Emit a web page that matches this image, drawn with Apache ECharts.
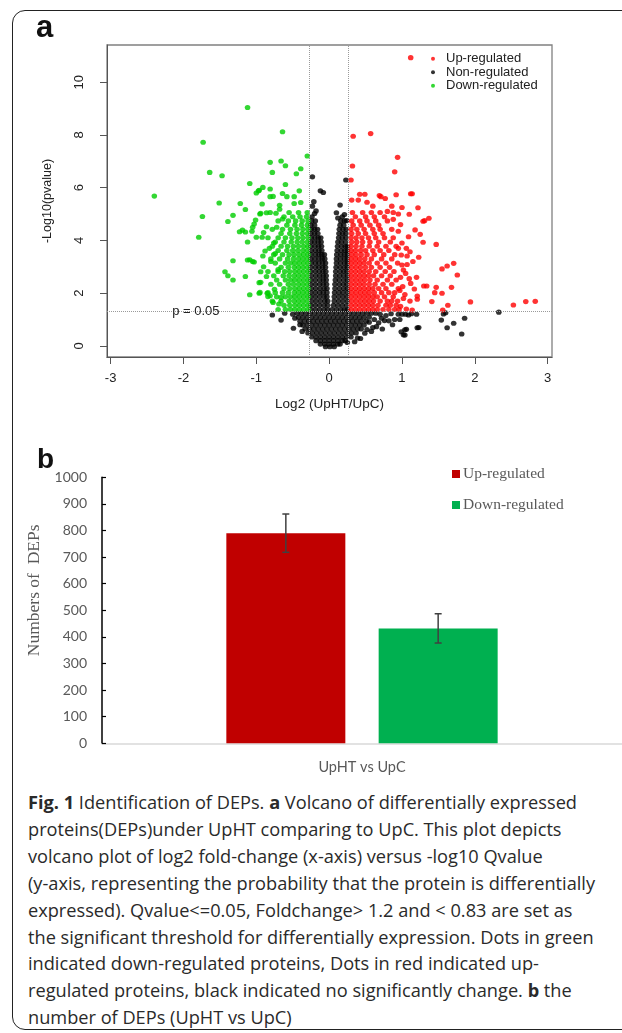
<!DOCTYPE html>
<html>
<head>
<meta charset="utf-8">
<script src="https://cdn.jsdelivr.net/npm/echarts@6/dist/echarts.min.js"></script>
<style>
  html, body { margin: 0; padding: 0; background: #fff; }
  body { width: 622px; height: 1033px; position: relative; overflow: hidden; }
  #frame { position: absolute; left: 12px; top: 10px; width: 640px; height: 1020px;
           border: 1.5px solid #222; border-radius: 13px; box-sizing: border-box; }
  #volcano { position: absolute; left: 0; top: 0; width: 622px; height: 440px; }
  #bars { position: absolute; left: 0; top: 440px; width: 622px; height: 345px; }
  #caption { position: absolute; left: 28px; top: 789px; white-space: nowrap;
             font-family: "Open Sans", sans-serif; font-size: 18.2px; line-height: 26.9px; color: #2a2a2a; }
  #caption b { font-weight: 700; }
</style>
</head>
<body>
<div id="frame"></div>
<div id="volcano"></div>
<div id="bars"></div>
<div id="caption"><b>Fig. 1</b> Identification of DEPs. <b>a</b> Volcano of differentially expressed<br>proteins(DEPs)under UpHT comparing to UpC. This plot depicts<br>volcano plot of log2 fold-change (x-axis) versus -log10 Qvalue<br>(y-axis, representing the probability that the protein is differentially<br>expressed). Qvalue&lt;=0.05, Foldchange&gt; 1.2 and &lt; 0.83 are set as<br>the significant threshold for differentially expression. Dots in green<br>indicated down-regulated proteins, Dots in red indicated up-<br>regulated proteins, black indicated no significantly change. <b>b</b> the<br>number of DEPs (UpHT vs UpC)</div>

<script type="text/javascript">
// ---- panel a : volcano ----
var xTicks = [-3, -2, -1, 0, 1, 2, 3];
var yTicks = [0, 2, 4, 6, 8, 10];
var fcDown = -0.269, fcUp = 0.263, pLine = 1.301;

// dense rows: [y, x, x, ...]
var blackColumns = [
  [1.38, -0.25, -0.19, -0.13, -0.07, -0.02, 0.04, 0.10, 0.16, 0.21, 0.25],
  [1.54, -0.25, -0.19, -0.13, -0.07, -0.02, 0.06, 0.12, 0.18, 0.24],
  [1.70, -0.24, -0.18, -0.12, -0.06, -0.02, 0.07, 0.13, 0.19, 0.25],
  [1.86, -0.25, -0.19, -0.13, -0.07, -0.03, 0.07, 0.13, 0.19, 0.245],
  [2.02, -0.25, -0.19, -0.13, -0.08, -0.03, 0.075, 0.135, 0.19, 0.25],
  [2.18, -0.245, -0.185, -0.125, -0.07, -0.03, 0.08, 0.14, 0.20, 0.25],
  [2.34, -0.25, -0.19, -0.13, -0.08, -0.035, 0.08, 0.14, 0.195, 0.245],
  [2.50, -0.25, -0.19, -0.13, -0.08, -0.04, 0.085, 0.14, 0.20, 0.25],
  [2.66, -0.245, -0.185, -0.13, -0.08, -0.04, 0.09, 0.145, 0.20, 0.25],
  [2.82, -0.25, -0.19, -0.135, -0.085, -0.045, 0.09, 0.15, 0.20, 0.245],
  [2.98, -0.25, -0.19, -0.14, -0.09, -0.05, 0.095, 0.15, 0.205, 0.25],
  [3.14, -0.245, -0.19, -0.14, -0.09, -0.05, 0.10, 0.155, 0.21, 0.25],
  [3.30, -0.25, -0.195, -0.14, -0.095, -0.06, 0.10, 0.155, 0.21, 0.25],
  [3.46, -0.25, -0.19, -0.14, -0.10, -0.065, 0.105, 0.16, 0.21, 0.25],
  [3.62, -0.245, -0.19, -0.14, -0.10, 0.11, 0.165, 0.215, 0.25],
  [3.78, -0.25, -0.195, -0.145, -0.105, 0.115, 0.17, 0.22, 0.25],
  [3.94, -0.25, -0.20, -0.15, -0.11, 0.12, 0.17, 0.225],
  [4.10, -0.245, -0.195, -0.15, -0.115, 0.13, 0.18, 0.23],
  [4.26, -0.25, -0.20, -0.155, 0.135, 0.185, 0.23],
  [4.42, -0.245, -0.20, -0.16, 0.14, 0.19, 0.235],
  [4.58, -0.25, -0.20, 0.15, 0.20],
  [4.74, -0.24, -0.19, 0.16, 0.21],
  [4.90, -0.235, 0.18]
];
var blackBase = [
  [1.24, -0.44, -0.38, -0.32, -0.26, -0.20, -0.14, -0.08, -0.02, 0.04, 0.10, 0.16, 0.22, 0.28, 0.34, 0.40, 0.46, 0.52, 0.58, 0.64],
  [1.09, -0.42, -0.36, -0.30, -0.24, -0.18, -0.12, -0.06, 0.00, 0.06, 0.12, 0.18, 0.24, 0.30, 0.36, 0.42, 0.48, 0.55],
  [0.94, -0.40, -0.34, -0.28, -0.22, -0.16, -0.10, -0.04, 0.02, 0.08, 0.14, 0.20, 0.26, 0.32, 0.38, 0.44, 0.51],
  [0.79, -0.36, -0.30, -0.24, -0.18, -0.12, -0.06, 0.00, 0.06, 0.12, 0.18, 0.24, 0.30, 0.36, 0.42, 0.48],
  [0.64, -0.33, -0.27, -0.21, -0.15, -0.09, -0.03, 0.03, 0.09, 0.15, 0.21, 0.27, 0.33, 0.39, 0.44],
  [0.49, -0.29, -0.23, -0.17, -0.11, -0.05, 0.01, 0.07, 0.13, 0.19, 0.25, 0.31, 0.37],
  [0.34, -0.24, -0.18, -0.12, -0.06, 0.00, 0.06, 0.12, 0.18, 0.24, 0.30],
  [0.20, -0.18, -0.12, -0.06, 0.00, 0.06, 0.12, 0.18, 0.22],
  [0.07, -0.12, -0.06, 0.00, 0.06, 0.12, 0.15],
  [-0.03, -0.05, 0.01, 0.07]
];
var blackScatter = [
  [-0.23, 6.41], [-0.12, 5.88], [-0.08, 5.82], [0.23, 6.29], [0.15, 5.34], [-0.21, 5.47], [-0.23, 5.30],
  [-0.18, 5.12], [0.10, 5.05], [0.21, 4.98], [-0.20, 5.02], [0.12, 4.85], [0.24, 4.75],
  [-0.78, 1.17], [-0.66, 0.98], [-0.61, 1.24], [-0.50, 1.20], [-0.49, 0.67], [-0.40, 0.80], [-0.37, 0.55], [-0.47, 1.05],
  [0.65, 0.73], [0.60, 0.70], [0.73, 0.64], [0.76, 0.96], [0.87, 0.80], [0.70, 1.20], [0.78, 1.15], [0.85, 1.22],
  [0.95, 1.20], [1.00, 1.20], [1.05, 1.20], [1.09, 1.17], [1.13, 1.22], [1.20, 1.20], [0.99, 0.54], [1.02, 0.42],
  [1.04, 0.61], [1.06, 0.63], [1.04, 0.41], [1.21, 0.69], [1.23, 0.70], [0.97, 1.00], [1.54, 0.98], [1.57, 1.21],
  [1.60, 1.26], [1.62, 0.69], [1.71, 0.86], [1.82, 0.45], [1.86, 1.05], [2.33, 1.28], [0.49, 0.48], [0.43, 0.28],
  [0.39, 0.30], [0.35, 0.16], [0.25, 0.13], [0.55, 0.90], [0.62, 1.00], [0.68, 0.88], [0.58, 0.55], [0.52, 0.62],
  [0.72, 1.05], [0.90, 1.00], [0.82, 0.95]
];
var redCore = [
  [1.38, 0.30, 0.36, 0.42, 0.48, 0.54, 0.60, 0.66, 0.74, 0.82, 0.90, 0.96],
  [1.54, 0.30, 0.36, 0.42, 0.48, 0.54, 0.60, 0.67, 0.78, 0.84, 0.92],
  [1.70, 0.31, 0.37, 0.43, 0.49, 0.55, 0.61, 0.70, 0.80, 0.86, 0.94],
  [1.86, 0.30, 0.36, 0.42, 0.48, 0.54, 0.60, 0.66, 0.76, 0.88],
  [2.02, 0.31, 0.37, 0.43, 0.49, 0.55, 0.62, 0.72, 0.82, 0.90],
  [2.18, 0.30, 0.36, 0.42, 0.48, 0.54, 0.60, 0.68, 0.78, 0.95],
  [2.34, 0.30, 0.36, 0.42, 0.48, 0.55, 0.63, 0.74, 0.86],
  [2.50, 0.31, 0.37, 0.43, 0.49, 0.56, 0.66, 0.80, 0.92],
  [2.66, 0.30, 0.36, 0.42, 0.48, 0.54, 0.61, 0.72, 0.84],
  [2.82, 0.30, 0.36, 0.42, 0.48, 0.55, 0.64, 0.77, 0.89],
  [2.98, 0.31, 0.37, 0.43, 0.50, 0.58, 0.70, 0.83],
  [3.14, 0.30, 0.36, 0.42, 0.48, 0.55, 0.66, 0.78, 0.94],
  [3.30, 0.30, 0.36, 0.42, 0.49, 0.58, 0.72, 0.86],
  [3.46, 0.31, 0.37, 0.44, 0.52, 0.62, 0.75, 0.90],
  [3.62, 0.30, 0.36, 0.43, 0.50, 0.60, 0.70, 0.82],
  [3.78, 0.30, 0.37, 0.45, 0.55, 0.66, 0.78, 0.92],
  [3.94, 0.31, 0.38, 0.46, 0.56, 0.68, 0.84],
  [4.10, 0.30, 0.37, 0.45, 0.54, 0.64, 0.76, 0.88],
  [4.26, 0.31, 0.40, 0.50, 0.62, 0.74],
  [4.42, 0.30, 0.38, 0.48, 0.60, 0.70, 0.86],
  [4.58, 0.33, 0.44, 0.56, 0.68],
  [4.74, 0.31, 0.42, 0.52, 0.64, 0.80],
  [4.90, 0.36, 0.50, 0.62, 0.76],
  [5.06, 0.32, 0.46, 0.58, 0.70, 0.88]
];
var redScatter = [
  [1.12, 10.93], [0.33, 7.95], [0.57, 8.05], [0.94, 7.15], [0.90, 6.60], [0.32, 6.82], [0.30, 6.29], [0.71, 5.66],
  [0.92, 5.73], [1.12, 5.77], [1.14, 5.77], [0.42, 5.75], [0.49, 5.75], [0.31, 5.53], [0.40, 5.53], [0.69, 5.70],
  [0.77, 5.59], [1.22, 5.24], [1.37, 4.84], [1.31, 4.75], [1.00, 5.25], [1.10, 4.99], [1.29, 4.73], [1.47, 3.85],
  [1.29, 3.93], [1.25, 4.23], [1.09, 4.14], [1.06, 3.70], [1.11, 3.57], [0.99, 3.45], [1.07, 3.41], [1.23, 3.36],
  [1.00, 3.07], [1.07, 3.09], [1.02, 2.88], [1.05, 2.75], [1.55, 2.92], [1.62, 3.03], [1.71, 3.13], [1.76, 2.69],
  [1.12, 2.37], [1.01, 2.25], [1.30, 2.27], [1.34, 2.27], [1.17, 2.16], [1.47, 2.22], [1.68, 2.22], [1.45, 2.02],
  [1.55, 2.00], [1.21, 1.89], [1.21, 1.77], [1.11, 1.70], [1.41, 1.68], [1.63, 1.54], [1.94, 1.67], [2.53, 1.55],
  [2.70, 1.68], [2.83, 1.69], [1.56, 1.36], [1.14, 1.36], [0.98, 1.50], [1.02, 1.80], [1.04, 1.95], [0.97, 2.10],
  [1.06, 1.40], [0.86, 5.30], [0.98, 4.60], [0.95, 4.35], [1.00, 3.90], [0.60, 5.30], [0.52, 5.45], [0.80, 5.10],
  [0.95, 5.00], [0.88, 4.80], [1.18, 4.40], [1.15, 3.20], [0.98, 2.60], [1.10, 2.55], [1.20, 2.60], [0.95, 3.70]
];
var greenCore = [
  [1.38, -0.29, -0.35, -0.41, -0.47, -0.53, -0.60, -0.70],
  [1.54, -0.29, -0.35, -0.41, -0.47, -0.54, -0.62],
  [1.70, -0.30, -0.36, -0.42, -0.48, -0.55, -0.66, -0.78],
  [1.86, -0.29, -0.35, -0.41, -0.47, -0.53, -0.60, -0.72],
  [2.02, -0.30, -0.36, -0.42, -0.48, -0.56, -0.64, -0.74],
  [2.18, -0.29, -0.35, -0.41, -0.47, -0.54, -0.62],
  [2.34, -0.30, -0.36, -0.42, -0.49, -0.56, -0.68, -0.80],
  [2.50, -0.29, -0.35, -0.41, -0.47, -0.53, -0.60, -0.72],
  [2.66, -0.30, -0.36, -0.42, -0.48, -0.55, -0.63, -0.76],
  [2.82, -0.29, -0.35, -0.41, -0.47, -0.54, -0.61, -0.70, -0.84],
  [2.98, -0.30, -0.36, -0.42, -0.48, -0.56, -0.66],
  [3.14, -0.29, -0.35, -0.41, -0.47, -0.53, -0.60, -0.74],
  [3.30, -0.30, -0.36, -0.42, -0.49, -0.57, -0.68, -0.80],
  [3.46, -0.29, -0.35, -0.41, -0.48, -0.55, -0.64, -0.76],
  [3.62, -0.30, -0.36, -0.43, -0.50, -0.58, -0.70],
  [3.78, -0.29, -0.35, -0.42, -0.49, -0.57, -0.66, -0.78],
  [3.94, -0.30, -0.37, -0.44, -0.52, -0.62, -0.74],
  [4.10, -0.29, -0.36, -0.43, -0.51, -0.60, -0.70, -0.84],
  [4.26, -0.30, -0.37, -0.45, -0.54, -0.66],
  [4.42, -0.29, -0.36, -0.44, -0.53, -0.64, -0.78],
  [4.58, -0.30, -0.38, -0.47, -0.58],
  [4.74, -0.29, -0.37, -0.46, -0.56, -0.70],
  [4.90, -0.31, -0.40, -0.50, -0.62],
  [5.06, -0.30, -0.42, -0.55]
];
var greenScatter = [
  [-2.40, 5.68], [-1.64, 6.58], [-1.47, 6.45], [-1.74, 4.91], [-1.79, 4.12], [-1.51, 5.42], [-1.39, 4.72], [-1.32, 4.95],
  [-1.22, 5.40], [-1.15, 5.17], [-1.09, 6.16], [-1.32, 3.23], [-1.43, 2.81], [-1.39, 2.66], [-1.32, 2.50], [-1.15, 2.63],
  [-1.09, 1.94], [-1.09, 3.27], [-1.03, 3.18], [-0.95, 2.03], [-0.94, 2.81], [-0.94, 2.41], [-0.86, 2.63], [-0.84, 1.87],
  [-0.84, 2.02], [-0.69, 1.59], [-0.66, 1.84], [-0.75, 2.15], [-1.23, 4.33], [-1.19, 4.39], [-1.12, 3.94], [-1.15, 4.32],
  [-1.03, 4.62], [-1.01, 4.77], [-1.00, 4.12], [-0.92, 4.12], [-0.88, 3.60], [-0.91, 3.41], [-0.86, 4.52], [-0.94, 5.03],
  [-0.86, 5.05], [-0.81, 5.06], [-0.92, 5.38], [-0.97, 5.88], [-0.91, 6.01], [-0.81, 5.95], [-0.81, 5.66], [-0.77, 5.67],
  [-0.81, 6.96], [-0.66, 7.01], [-0.60, 6.83], [-0.78, 6.58], [-0.45, 6.53], [-0.39, 6.72], [-0.30, 7.20], [-0.60, 6.12],
  [-0.64, 5.78], [-0.58, 5.66], [-0.48, 5.66], [-0.41, 5.88], [-0.39, 5.44], [-0.48, 5.40], [-0.68, 5.33], [-0.73, 5.03],
  [-0.64, 4.81], [-0.68, 5.18], [-1.12, 9.04], [-0.64, 8.12], [-1.73, 7.72], [-1.05, 4.50], [-1.06, 4.35], [-0.95, 5.00],
  [-1.12, 3.26], [-1.05, 3.20], [-0.96, 2.00], [-0.96, 2.40], [-0.85, 2.00], [-0.81, 1.90], [-0.77, 1.65], [-1.00, 5.80],
  [-0.96, 5.90], [-0.72, 4.50], [-0.76, 3.90], [-0.80, 3.20], [-0.90, 3.00], [-0.70, 2.90], [-0.74, 3.50], [-0.82, 3.70],
  [-0.90, 4.30]
];

// ---- panel b : counts ----
var groups = ['UpHT vs UpC'];
var upCount = [790], upErr = [72];
var downCount = [432], downErr = [55];
var yTicksB = [0, 1000, 100];

function rowsToPoints(rows) {
  var out = [];
  rows.forEach(function (r) {
    for (var i = 1; i < r.length; i++) out.push([r[i], r[0]]);
  });
  return out;
}

var SANS = '"Liberation Sans", Arial, sans-serif';
var SERIF = '"Liberation Serif", "Times New Roman", serif';
var dot = [5.6, 5.1];

var chartA = echarts.init(document.getElementById('volcano'), null, { renderer: 'canvas' });
chartA.setOption({
  animation: false,
  title: { text: 'a', left: 36, top: 13, padding: 0,
           textStyle: { fontFamily: SANS, fontSize: 31, fontWeight: 'bold', color: '#111' } },
  grid: { left: 107, top: 45, width: 445, height: 312, show: true, borderColor: '#808080', borderWidth: 1.3 },
  legend: {
    orient: 'vertical', left: 431, top: 52, padding: 0, itemGap: 0,
    itemWidth: 16, itemHeight: 4, icon: 'circle',
    data: ['Up-regulated', 'Non-regulated', 'Down-regulated'],
    textStyle: { fontFamily: SANS, fontSize: 13, lineHeight: 13.5, color: '#222' }
  },
  xAxis: {
    type: 'value', min: -3.05, max: 3.06,
    name: 'Log2 (UpHT/UpC)', nameLocation: 'middle', nameGap: 40,
    nameTextStyle: { fontFamily: SANS, fontSize: 13.5, color: '#222' },
    splitLine: { show: false },
    axisLine: { show: true, onZero: false, lineStyle: { color: '#555', width: 1 } },
    axisTick: { show: true, length: 7, customValues: xTicks, lineStyle: { color: '#555' } },
    axisLabel: { customValues: xTicks, margin: 15, fontFamily: SANS, fontSize: 13, color: '#222' }
  },
  yAxis: {
    type: 'value', min: -0.42, max: 11.41,
    name: '-Log10(pvalue)', nameLocation: 'middle', nameGap: 53,
    nameTextStyle: { fontFamily: SANS, fontSize: 12.5, color: '#222' },
    splitLine: { show: false },
    axisLine: { show: true, onZero: false, lineStyle: { color: '#555', width: 1 } },
    axisTick: { show: true, length: 7, customValues: yTicks, lineStyle: { color: '#555' } },
    axisLabel: { customValues: yTicks, rotate: 90, margin: 21, fontFamily: SANS, fontSize: 13, color: '#222' }
  },
  series: [
    {
      name: 'Non-regulated', type: 'scatter', symbolSize: dot,
      itemStyle: { color: '#000' },
      data: rowsToPoints(blackBase).concat(rowsToPoints(blackColumns), blackScatter),
      markLine: {
        silent: true, symbol: 'none', label: { show: false },
        lineStyle: { type: 'dotted', color: '#9a9a9a', width: 1 },
        data: [{ xAxis: fcDown }, { xAxis: fcUp }, { yAxis: pLine }]
      },
      markPoint: {
        silent: true, symbol: 'circle', symbolSize: 1, itemStyle: { color: 'rgba(0,0,0,0)' },
        label: { show: true, position: 'inside', formatter: 'p = 0.05', fontFamily: SANS, fontSize: 13, color: '#222' },
        data: [{ coord: [-1.83, pLine] }]
      }
    },
    { name: 'Up-regulated', type: 'scatter', symbolSize: dot, itemStyle: { color: '#ff0000' },
      data: rowsToPoints(redCore).concat(redScatter) },
    { name: 'Down-regulated', type: 'scatter', symbolSize: dot, itemStyle: { color: '#00cd00' },
      data: rowsToPoints(greenCore).concat(greenScatter) }
  ]
});

var BAR_W = 119, BAR_GAP = 0.28;
var errData = [
  [0, upCount[0] - upErr[0], upCount[0] + upErr[0], -1],
  [0, downCount[0] - downErr[0], downCount[0] + downErr[0], 1]
];

var chartB = echarts.init(document.getElementById('bars'), null, { renderer: 'canvas' });
chartB.setOption({
  animation: false,
  title: { text: 'b', left: 37, top: 6, padding: 0,
           textStyle: { fontFamily: SANS, fontSize: 28, fontWeight: 'bold', color: '#111' } },
  grid: { left: 102, top: 37.3, width: 536, height: 266 },
  legend: {
    orient: 'vertical', left: 452, top: 25, padding: 0, itemGap: 13,
    itemWidth: 8, itemHeight: 8,
    data: [{ name: 'Up-regulated', icon: 'rect' }, { name: 'Down-regulated', icon: 'rect' }],
    textStyle: { fontFamily: SERIF, fontSize: 15.5, lineHeight: 18, color: '#595959', padding: [0, 0, 0, -2] }
  },
  xAxis: {
    type: 'category', data: groups,
    axisLine: { lineStyle: { color: '#d9d9d9', width: 1.5 } },
    axisTick: { show: false },
    axisLabel: { margin: 17, fontFamily: 'Lato, sans-serif', fontSize: 14.5, color: '#595959' }
  },
  yAxis: {
    type: 'value', min: yTicksB[0], max: yTicksB[1], interval: yTicksB[2],
    name: 'Numbers of  DEPs', nameLocation: 'middle', nameGap: 48,
    nameTextStyle: { fontFamily: SERIF, fontSize: 17.5, color: '#595959', padding: [0, 0, 0, 40] },
    splitLine: { show: false },
    axisLine: { show: true, lineStyle: { color: '#000', width: 1.5 } },
    axisTick: { show: true, inside: true, length: 4, lineStyle: { color: '#000', width: 1.2 } },
    axisLabel: { margin: 15, fontFamily: 'Lato, sans-serif', fontSize: 14, color: '#595959',
                 formatter: function (v) { return String(v); } }
  },
  series: [
    { name: 'Up-regulated', type: 'bar', data: upCount, barWidth: BAR_W, barGap: (BAR_GAP * 100) + '%',
      itemStyle: { color: '#c00000' } },
    { name: 'Down-regulated', type: 'bar', data: downCount, barWidth: BAR_W,
      itemStyle: { color: '#00b050' } },
    {
      name: 'error', type: 'custom', silent: true, z: 5, data: errData,
      renderItem: function (params, api) {
        var lo = api.coord([api.value(0), api.value(1)]);
        var hi = api.coord([api.value(0), api.value(2)]);
        var x = lo[0] + api.value(3) * BAR_W * (1 + BAR_GAP) / 2;
        var cap = 3.5;
        var st = { stroke: '#404040', lineWidth: 1.5 };
        return {
          type: 'group',
          children: [
            { type: 'line', shape: { x1: x, y1: lo[1], x2: x, y2: hi[1] }, style: st },
            { type: 'line', shape: { x1: x - cap, y1: hi[1], x2: x + cap, y2: hi[1] }, style: st },
            { type: 'line', shape: { x1: x - cap, y1: lo[1], x2: x + cap, y2: lo[1] }, style: st }
          ]
        };
      }
    }
  ]
});
</script>
</body>
</html>
